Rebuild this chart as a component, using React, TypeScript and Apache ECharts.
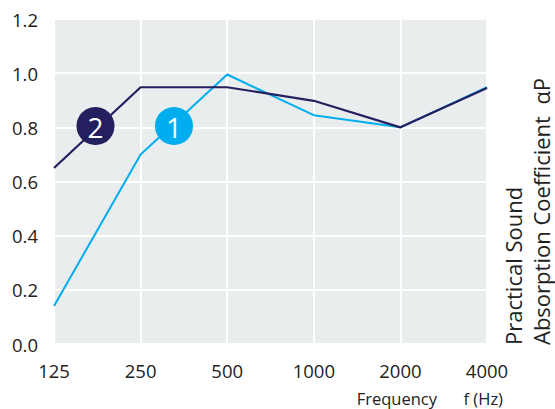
import React, { useEffect, useRef } from "react";
import * as echarts from "echarts";

const frequencies = ["125", "250", "500", "1000", "2000", "4000"];
const series1 = [0.14, 0.7, 0.995, 0.845, 0.8, 0.948];
const series2 = [0.65, 0.948, 0.948, 0.898, 0.8, 0.945];
const yMin = 0;
const yMax = 1.2;
const yStep = 0.2;
const xTitleA = "Frequency";
const xTitleB = "f (Hz)";
const yTitle1 = "Practical Sound";
const yTitle2 = "Absorption Coefficient  αP";

const FONT = "'Open Sans', 'Noto Sans', sans-serif";
const LIGHT = "#00aeef";
const DARK = "#241f5e";

export default function App() {
  const ref = useRef<HTMLDivElement>(null);
  useEffect(() => {
    if (!ref.current) return;
    const chart = echarts.init(ref.current, null, { renderer: "svg" });
    chart.setOption({
      animation: false,
      backgroundColor: "#ffffff",
      grid: {
        left: 54,
        right: 68,
        top: 19,
        bottom: 65,
        show: true,
        backgroundColor: "#e9edee",
        borderWidth: 0,
      },
      xAxis: {
        type: "category",
        data: frequencies,
        boundaryGap: false,
        axisLine: { show: false },
        axisTick: { show: false },
        axisLabel: {
          color: "#222",
          fontSize: 18.5,
          fontFamily: FONT,
          margin: 17,
        },
        splitLine: { show: true, lineStyle: { color: "#ffffff", width: 2 } },
      },
      yAxis: {
        type: "value",
        min: yMin,
        max: yMax,
        interval: yStep,
        axisLine: { show: false },
        axisTick: { show: false },
        axisLabel: {
          color: "#222",
          fontSize: 18.5,
          fontFamily: FONT,
          margin: 16,
          formatter: (v: number) => v.toFixed(1),
        },
        splitLine: { show: true, lineStyle: { color: "#ffffff", width: 2 } },
      },
      series: [
        {
          type: "line",
          data: series1,
          symbol: "none",
          lineStyle: { color: LIGHT, width: 2 },
          z: 2,
        },
        {
          type: "line",
          data: series2,
          symbol: "none",
          lineStyle: { color: DARK, width: 2.2 },
          z: 3,
        },
      ],
      graphic: [
        {
          type: "circle",
          shape: { cx: 95.5, cy: 126, r: 19 },
          style: { fill: DARK },
          z: 10,
        },
        {
          type: "text",
          x: 95.5,
          y: 127,
          style: {
            text: "2",
            fill: "#fff",
            fontSize: 28,
            fontFamily: FONT,
            align: "center",
            verticalAlign: "middle",
          },
          z: 11,
        },
        {
          type: "circle",
          shape: { cx: 174, cy: 126, r: 19 },
          style: { fill: LIGHT },
          z: 10,
        },
        {
          type: "text",
          x: 174,
          y: 127,
          style: {
            text: "1",
            fill: "#fff",
            fontSize: 28,
            fontFamily: FONT,
            align: "center",
            verticalAlign: "middle",
          },
          z: 11,
        },
        {
          type: "text",
          x: 437,
          y: 398,
          style: {
            text: xTitleA,
            fill: "#222",
            fontSize: 16.5,
            fontFamily: FONT,
            align: "right",
            verticalAlign: "middle",
          },
        },
        {
          type: "text",
          x: 503,
          y: 398,
          style: {
            text: xTitleB,
            fill: "#222",
            fontSize: 16.5,
            fontFamily: FONT,
            align: "right",
            verticalAlign: "middle",
          },
        },
        {
          type: "text",
          x: 513,
          y: 345,
          rotation: Math.PI / 2,
          style: {
            text: yTitle1,
            fill: "#222",
            fontSize: 22,
            fontFamily: FONT,
            align: "left",
            verticalAlign: "middle",
          },
        },
        {
          type: "text",
          x: 541,
          y: 345,
          rotation: Math.PI / 2,
          style: {
            text: yTitle2,
            fill: "#222",
            fontSize: 22,
            fontFamily: FONT,
            align: "left",
            verticalAlign: "middle",
          },
        },
      ],
    });
    return () => chart.dispose();
  }, []);
  return <div ref={ref} style={{ width: 555, height: 409, position: "absolute", left: 0, top: 0 }} />;
}
